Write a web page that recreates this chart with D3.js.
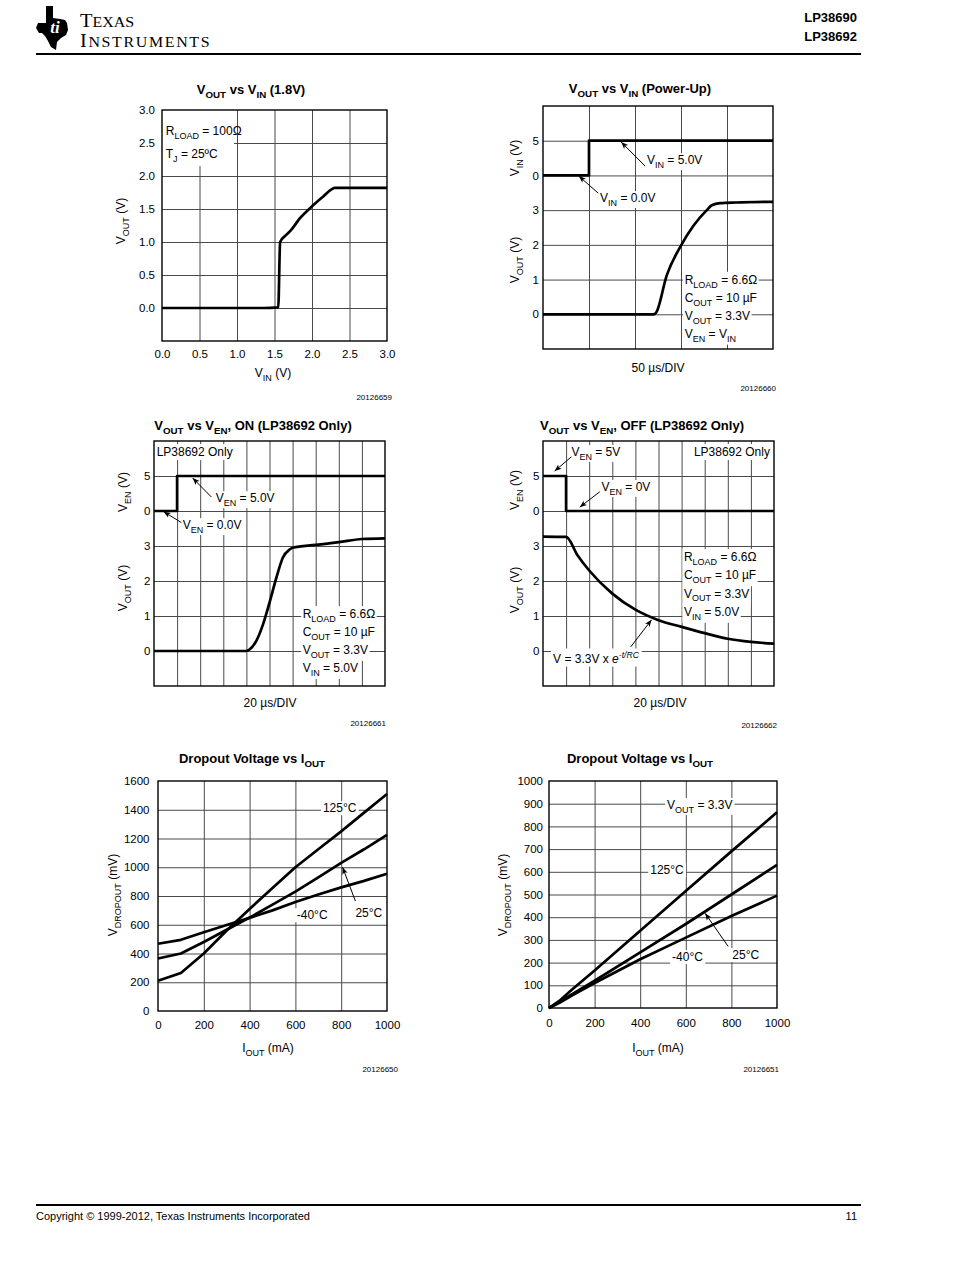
<!DOCTYPE html>
<html><head><meta charset="utf-8">
<script src="https://cdn.jsdelivr.net/npm/d3@7"></script>
<style>
body{margin:0;background:#fff}
svg{display:block;font-family:"Liberation Sans",Arial,Helvetica,sans-serif}
</style></head><body>
<svg id="page" width="954" height="1279"></svg>
<script>
// ---------------- DATA ----------------
// Chart 1: VOUT vs VIN (1.8V)
const c1Ticks = [0, 0.5, 1.0, 1.5, 2.0, 2.5, 3.0];
const c1Vin  = [0, 1.35, 1.55, 1.575, 1.65, 1.72, 1.84, 2.0, 2.15, 2.31, 3.0];
const c1Vout = [0, 0, 0.01, 1.0, 1.1, 1.18, 1.36, 1.54, 1.69, 1.82, 1.82];
// Chart 2: VOUT vs VIN (Power-Up), time in µs (50 µs/DIV)
const rowLabels = ["0", "1", "2", "3", "0", "5"];
const c2VinT  = [0, 50, 50, 250];
const c2Vin   = [0, 0, 5, 5];
const c2VoutT = [0, 120, 123, 134.5, 150, 163.5, 178, 183.5, 192.5, 210, 250];
const c2Vout  = [0, 0, 0.05, 1.12, 1.98, 2.55, 3.0, 3.14, 3.2, 3.22, 3.24];
// Chart 3: VOUT vs VEN, ON (20 µs/DIV)
const c3VenT  = [0, 20, 20, 200];
const c3Ven   = [0, 0, 5, 5];
const c3VoutT = [0, 80, 83, 88.6, 94.4, 100, 106, 111.6, 117.4, 120, 140, 160, 180, 200];
const c3Vout  = [0, 0, 0.05, 0.29, 0.76, 1.38, 2.1, 2.67, 2.9, 2.95, 3.03, 3.11, 3.2, 3.22];
// Chart 4: VOUT vs VEN, OFF (20 µs/DIV)
const c4VenT  = [0, 20, 20, 200];
const c4Ven   = [5, 5, 0, 0];
const c4VoutT = [0, 20, 30, 40, 60, 80, 100, 120, 140, 160, 180, 200];
const c4Vout  = [3.27, 3.26, 2.73, 2.3, 1.64, 1.18, 0.88, 0.69, 0.51, 0.35, 0.26, 0.21];
// Chart 5: Dropout Voltage vs IOUT
const c5Iout = [0, 100, 200, 300, 400, 500, 600, 700, 800, 900, 1000];
const c5T125 = [210, 265, 400, 560, 710, 855, 1000, 1125, 1250, 1380, 1510];
const c5T25  = [365, 400, 480, 565, 650, 740, 830, 930, 1030, 1125, 1225];
const c5Tm40 = [468, 495, 548, 598, 648, 700, 758, 810, 860, 905, 955];
const c5YTicks = [0, 200, 400, 600, 800, 1000, 1200, 1400, 1600];
// Chart 6: Dropout Voltage vs IOUT (VOUT = 3.3V)
const c6Iout = [0, 50, 100, 200, 400, 600, 800, 1000];
const c6T125 = [0, 35, 80, 165, 340, 515, 690, 862];
const c6T25  = [0, 30, 60, 120, 245, 370, 500, 630];
const c6Tm40 = [0, 25, 55, 110, 215, 310, 405, 495];
const c6YTicks = [0, 100, 200, 300, 400, 500, 600, 700, 800, 900, 1000];
const iTicks = [0, 200, 400, 600, 800, 1000];

// ---------------- HELPERS ----------------
const svg = d3.select('#page');
const FONT = '"Liberation Sans", Arial, Helvetica, sans-serif';
const GRID = '#4a4a4a';
const TICK_FS = 11.5;

svg.append('defs').append('marker').attr('id', 'arr')
  .attr('viewBox', '0 0 10 10').attr('refX', 10).attr('refY', 5)
  .attr('markerWidth', 7).attr('markerHeight', 7).attr('orient', 'auto')
  .append('path').attr('d', 'M0,1 L10,5 L0,9 L2.5,5 Z').attr('fill', '#000');

function rich(sel, str, fs) {
  const re = /([_^*%])\{([^}]*)\}/g;
  let last = 0, m, shift = 0;
  const parts = [];
  while ((m = re.exec(str))) {
    if (m.index > last) parts.push({t: str.slice(last, m.index), k: 'n'});
    parts.push({t: m[2], k: m[1]});
    last = re.lastIndex;
  }
  if (last < str.length) parts.push({t: str.slice(last), k: 'n'});
  parts.forEach(p => {
    const ts = sel.append('tspan').text(p.t);
    let target = 0;
    if (p.k === '_') { target = fs * 0.32; ts.attr('font-size', fs * 0.75); }
    if (p.k === '^' || p.k === '%') { target = -fs * 0.42; ts.attr('font-size', fs * 0.72); }
    if (p.k === '*' || p.k === '%') ts.attr('font-style', 'italic');
    if (target !== shift) { ts.attr('dy', target - shift); shift = target; }
  });
}

function txt(g, x, y, str, o = {}) {
  const fs = o.fs || 12;
  const t = g.append('text').attr('x', x).attr('y', y + fs * 0.35)
    .attr('font-size', fs).attr('text-anchor', o.anchor || 'start')
    .attr('font-family', o.family || FONT).attr('fill', '#000');
  if (o.bold) t.attr('font-weight', 'bold');
  if (o.rotate) t.attr('transform', `rotate(-90,${x},${y})`);
  rich(t, str, fs);
  if (o.bg) {
    const b = t.node().getBBox();
    const px = o.bg[0], py = o.bg[1];
    g.insert('rect', () => t.node())
      .attr('x', b.x - px).attr('y', b.y - py)
      .attr('width', b.width + 2 * px).attr('height', b.height + 2 * py)
      .attr('fill', '#fff');
  }
  return t;
}

function grid(g, x, y, xv, yv) {
  const [x0, x1] = x.range(), [y0, y1] = y.range();
  g.append('g').attr('transform', `translate(0,${y0})`)
    .call(d3.axisBottom(x).tickValues(xv).tickSize(-(y0 - y1)).tickFormat(''))
    .call(s => { s.select('.domain').remove(); s.selectAll('line').attr('stroke', GRID).attr('stroke-width', 1); });
  g.append('g').attr('transform', `translate(${x0},0)`)
    .call(d3.axisLeft(y).tickValues(yv).tickSize(-(x1 - x0)).tickFormat(''))
    .call(s => { s.select('.domain').remove(); s.selectAll('line').attr('stroke', GRID).attr('stroke-width', 1); });
}

function frame(g, x, y) {
  const [x0, x1] = x.range(), [y0, y1] = y.range();
  g.append('rect').attr('x', x0).attr('y', y1).attr('width', x1 - x0).attr('height', y0 - y1)
    .attr('fill', 'none').attr('stroke', '#000').attr('stroke-width', 1.4);
}

function styleAxis(s) {
  s.select('.domain').remove();
  s.attr('font-family', FONT).attr('font-size', TICK_FS);
  s.selectAll('text').attr('fill', '#000');
}
function yLabels(g, y, x0, vals, fmt, pad) {
  g.append('g').attr('transform', `translate(${x0},0)`)
    .call(d3.axisLeft(y).tickValues(vals).tickSize(0).tickPadding(pad).tickFormat(fmt)).call(styleAxis);
}
function xLabels(g, x, y0, vals, fmt, pad) {
  g.append('g').attr('transform', `translate(0,${y0})`)
    .call(d3.axisBottom(x).tickValues(vals).tickSize(0).tickPadding(pad).tickFormat(fmt)).call(styleAxis);
}

function curve(g, x, y, xs, ys, c, w) {
  g.append('path').datum(d3.zip(xs, ys))
    .attr('d', d3.line().x(d => x(d[0])).y(d => y(d[1])).curve(c || d3.curveLinear))
    .attr('fill', 'none').attr('stroke', '#000').attr('stroke-width', w || 2.7)
    .attr('stroke-linejoin', 'round');
}

function arrow(g, xa, ya, xb, yb) {
  g.append('line').attr('x1', xa).attr('y1', ya).attr('x2', xb).attr('y2', yb)
    .attr('stroke', '#000').attr('stroke-width', 1).attr('marker-end', 'url(#arr)');
}

// ---------------- HEADER / FOOTER ----------------
const logo = svg.append('g').attr('transform', 'translate(36,6)');
logo.append('path')
  .attr('d', 'M10,0 H17 V12 L24,13 L29,14 L31,17 L32,24 L30,29 L25,32 L21,36 L20,44 L15,41 L12,35 L9,30 L6,27 L3,27 L0,22 L2,17 H10 Z')
  .attr('fill', '#000');
logo.append('text').attr('x', 19).attr('y', 27).attr('text-anchor', 'middle')
  .attr('font-family', '"Liberation Serif"').attr('font-style', 'italic').attr('font-weight', 'bold')
  .attr('font-size', 17).attr('fill', '#fff').text('ti');
const word = svg.append('g').attr('transform', 'translate(80,0) scale(1.1,1)');
const tx1 = word.append('text').attr('x', 0).attr('y', 27).attr('font-family', '"Liberation Serif"').attr('fill', '#000');
tx1.append('tspan').attr('font-size', 18.5).text('T');
tx1.append('tspan').attr('font-size', 14.5).text('EXAS');
const tx2 = word.append('text').attr('x', 0).attr('y', 47.5).attr('font-family', '"Liberation Serif"').attr('fill', '#000').attr('letter-spacing', 1.5);
tx2.append('tspan').attr('font-size', 18.5).text('I');
tx2.append('tspan').attr('font-size', 14.5).text('NSTRUMENTS');

svg.append('text').attr('x', 857).attr('y', 22).attr('text-anchor', 'end').attr('font-weight', 'bold').attr('font-size', 13).text('LP38690');
svg.append('text').attr('x', 857).attr('y', 41).attr('text-anchor', 'end').attr('font-weight', 'bold').attr('font-size', 13).text('LP38692');
svg.append('line').attr('x1', 36).attr('x2', 861).attr('y1', 54).attr('y2', 54).attr('stroke', '#000').attr('stroke-width', 2);

svg.append('line').attr('x1', 36).attr('x2', 861).attr('y1', 1205).attr('y2', 1205).attr('stroke', '#000').attr('stroke-width', 2);
svg.append('text').attr('x', 36).attr('y', 1220).attr('font-size', 11).text('Copyright © 1999-2012, Texas Instruments Incorporated');
svg.append('text').attr('x', 857).attr('y', 1220).attr('font-size', 11).attr('text-anchor', 'end').text('11');

// ---------------- CHART 1 ----------------
{
  const g = svg.append('g');
  const x = d3.scaleLinear().domain([0, 3]).range([162, 387]);
  const y = d3.scaleLinear().domain([-0.5, 3]).range([341, 110]);
  grid(g, x, y, [0.5, 1, 1.5, 2, 2.5], [0, 0.5, 1, 1.5, 2, 2.5]);
  g.append('rect').attr('x', x(0)).attr('y', y(3)).attr('width', x(0.96) - x(0)).attr('height', y(2.15) - y(3)).attr('fill', '#fff');
  txt(g, x(0.05), y(2.68), 'R_{LOAD} = 100Ω');
  txt(g, x(0.05), y(2.33), 'T_{J} = 25ºC');
  curve(g, x, y, c1Vin, c1Vout, d3.curveMonotoneX);
  frame(g, x, y);
  yLabels(g, y, 162, c1Ticks, d3.format('.1f'), 7);
  xLabels(g, x, 341, c1Ticks, d3.format('.1f'), 9);
  txt(g, 251, 89, 'V_{OUT} vs V_{IN} (1.8V)', {fs: 13, bold: true, anchor: 'middle'});
  txt(g, 273, 373, 'V_{IN} (V)', {anchor: 'middle'});
  txt(g, 121, 221, 'V_{OUT} (V)', {anchor: 'middle', rotate: true});
  txt(g, 392, 397, '20126659', {fs: 8, anchor: 'end'});
}

// ---------------- CHART 2 ----------------
{
  const g = svg.append('g');
  const x = d3.scaleLinear().domain([0, 250]).range([543, 773]);
  const y = d3.scaleLinear().domain([-1, 6]).range([349, 106]);
  const yin = d3.scaleLinear().domain([0, 5]).range([y(4), y(5)]);
  grid(g, x, y, [50, 100, 150, 200], [0, 1, 2, 3, 4, 5]);
  txt(g, x(113), y(4.445), 'V_{IN} = 5.0V', {bg: [2, 0]});
  txt(g, x(62), y(3.35), 'V_{IN} = 0.0V', {bg: [2, 0]});
  ['R_{LOAD} = 6.6Ω', 'C_{OUT} = 10 µF', 'V_{OUT} = 3.3V', 'V_{EN} = V_{IN}'].forEach((s, i) =>
    txt(g, x(154), y(1) + i * 18, s, {bg: [1.5, 1]}));
  curve(g, x, yin, c2VinT, c2Vin);
  curve(g, x, y, c2VoutT, c2Vout, d3.curveMonotoneX);
  arrow(g, x(111), y(4.27), x(85), y(4.96));
  arrow(g, x(60), y(3.49), x(39), y(3.98));
  frame(g, x, y);
  yLabels(g, y, 543, [0, 1, 2, 3, 4, 5], (d, i) => rowLabels[i], 4);
  txt(g, 640, 88, 'V_{OUT} vs V_{IN} (Power-Up)', {fs: 13, bold: true, anchor: 'middle'});
  txt(g, 658, 368, '50 µs/DIV', {anchor: 'middle'});
  txt(g, 515, 158, 'V_{IN} (V)', {anchor: 'middle', rotate: true});
  txt(g, 515, 260, 'V_{OUT} (V)', {anchor: 'middle', rotate: true});
  txt(g, 776, 388, '20126660', {fs: 8, anchor: 'end'});
}

// ---------------- CHART 3 ----------------
{
  const g = svg.append('g');
  const x = d3.scaleLinear().domain([0, 200]).range([154, 385]);
  const y = d3.scaleLinear().domain([-1, 6]).range([686, 441]);
  const yen = d3.scaleLinear().domain([0, 5]).range([y(4), y(5)]);
  grid(g, x, y, d3.range(20, 200, 20), [0, 1, 2, 3, 4, 5]);
  txt(g, x(2.3), y(5.69), 'LP38692 Only', {bg: [1, 1]});
  txt(g, x(53.4), y(4.37), 'V_{EN} = 5.0V', {bg: [2, 0]});
  txt(g, x(24.8), y(3.6), 'V_{EN} = 0.0V', {bg: [2, 0]});
  ['R_{LOAD} = 6.6Ω', 'C_{OUT} = 10 µF', 'V_{OUT} = 3.3V', 'V_{IN} = 5.0V'].forEach((s, i) =>
    txt(g, x(128.7), y(1.06) + i * 18, s, {bg: [1.5, 1]}));
  curve(g, x, yen, c3VenT, c3Ven);
  curve(g, x, y, c3VoutT, c3Vout, d3.curveMonotoneX);
  arrow(g, x(49.7), y(4.4), x(33.5), y(4.94));
  arrow(g, x(23.7), y(3.67), x(8.4), y(3.98));
  frame(g, x, y);
  yLabels(g, y, 154, [0, 1, 2, 3, 4, 5], (d, i) => rowLabels[i], 3.5);
  txt(g, 253, 425, 'V_{OUT} vs V_{EN}, ON (LP38692 Only)', {fs: 13, bold: true, anchor: 'middle'});
  txt(g, 270, 703, '20 µs/DIV', {anchor: 'middle'});
  txt(g, 123, 492, 'V_{EN} (V)', {anchor: 'middle', rotate: true});
  txt(g, 123, 588, 'V_{OUT} (V)', {anchor: 'middle', rotate: true});
  txt(g, 386, 723, '20126661', {fs: 8, anchor: 'end'});
}

// ---------------- CHART 4 ----------------
{
  const g = svg.append('g');
  const x = d3.scaleLinear().domain([0, 200]).range([543, 774]);
  const y = d3.scaleLinear().domain([-1, 6]).range([686, 441]);
  const yen = d3.scaleLinear().domain([0, 5]).range([y(4), y(5)]);
  grid(g, x, y, d3.range(20, 200, 20), [0, 1, 2, 3, 4, 5]);
  txt(g, x(24.6), y(5.69), 'V_{EN} = 5V', {bg: [2, 0]});
  txt(g, x(50.6), y(4.69), 'V_{EN} = 0V', {bg: [2, 0]});
  txt(g, x(196.5), y(5.69), 'LP38692 Only', {anchor: 'end', bg: [1, 1]});
  ['R_{LOAD} = 6.6Ω', 'C_{OUT} = 10 µF', 'V_{OUT} = 3.3V', 'V_{IN} = 5.0V'].forEach((s, i) =>
    txt(g, x(122), y(2.69) + i * 18.3, s, {bg: [1.5, 1]}));
  txt(g, x(8.7), y(-0.21), 'V = 3.3V x *{e}%{-t/RC}', {bg: [2, 1]});
  curve(g, x, yen, c4VenT, c4Ven);
  curve(g, x, y, c4VoutT, c4Vout, d3.curveMonotoneX);
  arrow(g, x(24.6), y(5.55), x(10.1), y(5.14));
  arrow(g, x(49.2), y(4.55), x(31.8), y(4.11));
  arrow(g, x(76), y(0.12), x(94), y(0.89));
  frame(g, x, y);
  yLabels(g, y, 543, [0, 1, 2, 3, 4, 5], (d, i) => rowLabels[i], 3.5);
  txt(g, 642, 425, 'V_{OUT} vs V_{EN}, OFF (LP38692 Only)', {fs: 13, bold: true, anchor: 'middle'});
  txt(g, 660, 703, '20 µs/DIV', {anchor: 'middle'});
  txt(g, 515, 490, 'V_{EN} (V)', {anchor: 'middle', rotate: true});
  txt(g, 515, 590, 'V_{OUT} (V)', {anchor: 'middle', rotate: true});
  txt(g, 777, 725, '20126662', {fs: 8, anchor: 'end'});
}

// ---------------- CHART 5 ----------------
{
  const g = svg.append('g');
  const x = d3.scaleLinear().domain([0, 1000]).range([158, 387]);
  const y = d3.scaleLinear().domain([0, 1600]).range([1011, 781]);
  grid(g, x, y, [200, 400, 600, 800], [200, 400, 600, 800, 1000, 1200, 1400]);
  txt(g, x(720), y(1412), '125°C', {bg: [2, 0]});
  txt(g, x(606), y(668), '-40°C', {bg: [2, 0]});
  txt(g, x(862), y(682), '25°C', {bg: [2, 0]});
  curve(g, x, y, c5Iout, c5T125);
  curve(g, x, y, c5Iout, c5T25);
  curve(g, x, y, c5Iout, c5Tm40);
  arrow(g, x(862), y(765), x(806), y(1000));
  frame(g, x, y);
  yLabels(g, y, 158, c5YTicks, d3.format('d'), 8.5);
  xLabels(g, x, 1011, iTicks, d3.format('d'), 10);
  txt(g, 252, 758, 'Dropout Voltage vs I_{OUT}', {fs: 13, bold: true, anchor: 'middle'});
  txt(g, 268, 1048, 'I_{OUT} (mA)', {anchor: 'middle'});
  txt(g, 113, 895, 'V_{DROPOUT} (mV)', {anchor: 'middle', rotate: true});
  txt(g, 398, 1069, '20126650', {fs: 8, anchor: 'end'});
}

// ---------------- CHART 6 ----------------
{
  const g = svg.append('g');
  const x = d3.scaleLinear().domain([0, 1000]).range([549, 777]);
  const y = d3.scaleLinear().domain([0, 1000]).range([1008, 781]);
  grid(g, x, y, [200, 400, 600, 800], [100, 200, 300, 400, 500, 600, 700, 800, 900]);
  txt(g, x(518), y(895), 'V_{OUT} = 3.3V', {bg: [2, 0]});
  txt(g, x(444), y(608), '125°C', {bg: [2, 0]});
  txt(g, x(540), y(225), '-40°C', {bg: [2, 0]});
  txt(g, x(804), y(234), '25°C', {bg: [2, 0]});
  curve(g, x, y, c6Iout, c6T125);
  curve(g, x, y, c6Iout, c6T25);
  curve(g, x, y, c6Iout, c6Tm40);
  arrow(g, x(786), y(271), x(685), y(417));
  frame(g, x, y);
  yLabels(g, y, 549, c6YTicks, d3.format('d'), 6);
  xLabels(g, x, 1008, iTicks, d3.format('d'), 11);
  txt(g, 640, 758, 'Dropout Voltage vs I_{OUT}', {fs: 13, bold: true, anchor: 'middle'});
  txt(g, 658, 1048, 'I_{OUT} (mA)', {anchor: 'middle'});
  txt(g, 503, 895, 'V_{DROPOUT} (mV)', {anchor: 'middle', rotate: true});
  txt(g, 779, 1069, '20126651', {fs: 8, anchor: 'end'});
}
</script>
</body></html>
